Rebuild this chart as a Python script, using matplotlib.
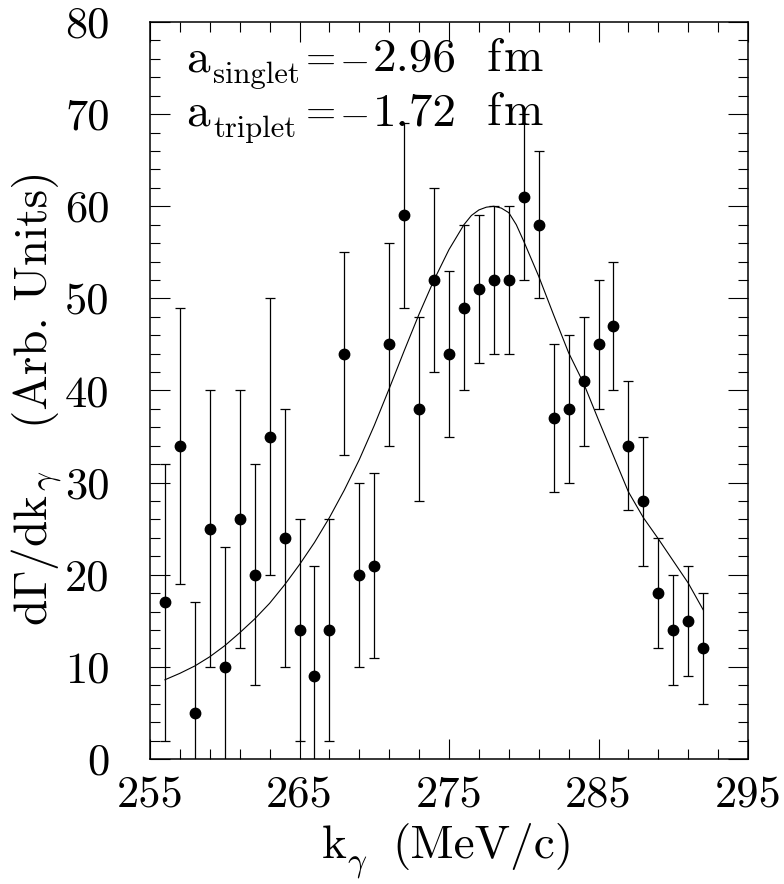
import numpy as np
import matplotlib
matplotlib.use('Agg')
import matplotlib.pyplot as plt
from matplotlib.ticker import MultipleLocator, FixedLocator

plt.rcParams['mathtext.fontset'] = 'cm'
plt.rcParams['font.family'] = 'cmr10'
plt.rcParams['axes.unicode_minus'] = False

# measured spectrum (photon momentum in MeV/c)
k = np.arange(256, 293)
rate = [17, 34, 5, 25, 10, 26, 20, 35, 24, 14, 9, 14, 44, 20, 21, 45, 59, 38,
        52, 44, 49, 51, 52, 52, 61, 58, 37, 38, 41, 45, 47, 34, 28, 18, 14, 15, 12]
err = [15, 15, 12, 15, 13, 14, 12, 15, 14, 12, 12, 12, 11, 10, 10, 11, 10, 10,
       10, 9, 9, 8, 8, 8, 9, 8, 8, 8, 7, 7, 7, 7, 7, 6, 6, 6, 6]

# calculated curve
fit_k = [256, 257, 258, 259, 260, 261, 262, 263, 264, 265, 266, 267, 268, 269,
         270, 271, 272, 273, 274, 275, 276, 276.5, 277, 277.5, 278, 278.5, 279,
         279.5, 280, 281, 282, 283, 284, 285, 286, 287, 288, 289, 290, 291, 292]
fit_y = [8.6, 9.3, 10.1, 11.1, 12.3, 13.7, 15.2, 16.9, 18.9, 21.1, 23.5, 26.2,
         29.2, 32.5, 36.2, 40.2, 44.3, 48.3, 52.0, 55.3, 58.0, 59.0, 59.6, 59.9,
         60.0, 59.8, 59.3, 58.0, 56.2, 52.4, 48.2, 44.1, 40.8, 36.8, 32.9, 29.0,
         26.2, 23.9, 21.5, 19.1, 16.2]

W, H = 784, 884
fig = plt.figure(figsize=(W/100, H/100), dpi=100)
ax = fig.add_axes([150/W, 1-759/H, 598/W, 737/H])

ax.errorbar(k, rate, yerr=err, fmt='o', color='black', ms=7.5, elinewidth=0.9,
            capsize=3.6, capthick=0.9)
ax.plot(fit_k, fit_y, color='black', lw=0.8)

ax.set_xlim(255, 295)
ax.set_ylim(0, 80)
ax.xaxis.set_major_locator(FixedLocator([255, 265, 275, 285, 295]))
ax.xaxis.set_minor_locator(FixedLocator(np.arange(255, 296, 2)))
ax.yaxis.set_major_locator(MultipleLocator(10))
ax.yaxis.set_minor_locator(MultipleLocator(2))
ax.tick_params(which='both', direction='in', top=True, right=True, labelsize=32)
ax.tick_params(which='major', length=14.5, width=0.8)
ax.tick_params(which='minor', length=7.2, width=0.8)
ax.tick_params(axis='x', pad=12)
ax.tick_params(axis='y', pad=29)
for s in ax.spines.values():
    s.set_linewidth(1.1)


def put(px, py, s, size, rot=0):
    # place a piece of text by its baseline start, in figure pixels from top-left
    fig.text(px/W, 1-py/H, s, fontsize=size, ha='left', va='baseline',
             rotation=rot, rotation_mode='anchor')


# scattering lengths
for base, sub, val in [(71, 'singlet', '2.96'), (125, 'triplet', '1.72')]:
    put(186, base, 'a', 34)
    put(213, base+12, sub, 22)
    put(306, base, '=', 28)
    put(339, base, r'$-$', 28)
    put(373, base, val, 34)
    put(486, base, 'f', 34)
    put(504, base, 'm', 34)

# x label
put(322, 858, 'k', 34)
put(347, 871, r'$\gamma$', 24)
put(392, 858, '(MeV/c)', 34)

# y label
put(47, 626, r'$\mathrm{d}\Gamma/\mathrm{dk}$', 34, rot=90)
put(54, 491, r'$\gamma$', 24, rot=90)
put(47, 428, '(Arb. Units)', 34, rot=90)

fig.savefig('out.png', dpi=100)
